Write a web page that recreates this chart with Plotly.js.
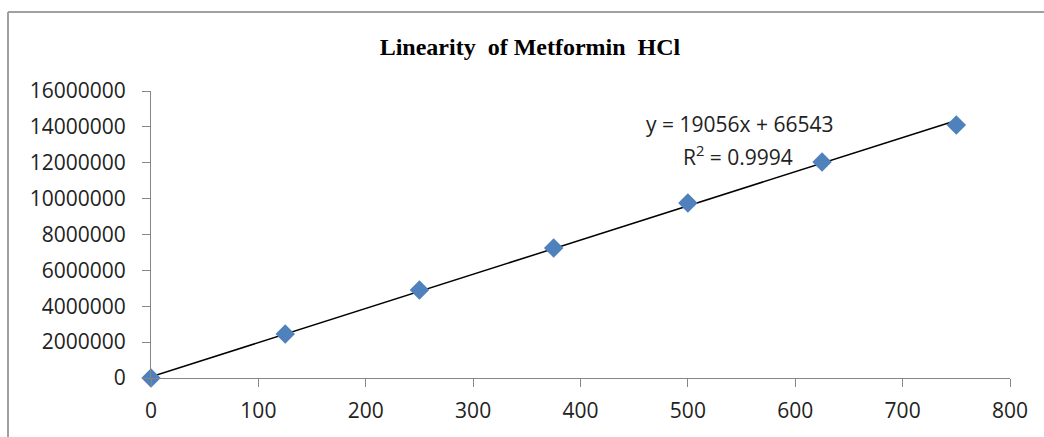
<!DOCTYPE html>
<html>
<head>
<meta charset="utf-8">
<script src="https://cdn.plot.ly/plotly-3.0.1.min.js"></script>
<style>
html,body{margin:0;padding:0;background:#fff;}
#chart{width:1044px;height:437px;}
</style>
</head>
<body>
<div id="chart"></div>
<script>
// Data
const concentration = [0, 125, 250, 375, 500, 625, 750];
const peakArea = [0, 2450000, 4900000, 7250000, 9760000, 12040000, 14100000];
const slope = 19056;
const intercept = 66543;
const equationText = "y = 19056x + 66543";
const r2Text = "R<sup>2</sup> = 0.9994";
const titleText = "Linearity&nbsp; of Metformin&nbsp; HCl";

const W = 1044, H = 437;
const M = {l: 151, r: 34, t: 91, b: 59};
const pw = W - M.l - M.r, ph = H - M.t - M.b;
function px2paperX(px){ return (px - M.l) / pw; }
function px2paperY(py){ return (H - M.b - py) / ph; }

const trendX = [concentration[0], concentration[concentration.length-1]];
const trendY = trendX.map(x => slope * x + intercept);

const tickFont = {family: "Open Sans, sans-serif", size: 21, color: "#222"};

const traces = [
  {
    x: trendX, y: trendY, mode: "lines", type: "scatter",
    line: {color: "#000", width: 1.5}, hoverinfo: "skip", showlegend: false,
    cliponaxis: false
  },
  {
    x: concentration, y: peakArea, mode: "markers", type: "scatter",
    marker: {symbol: "diamond", size: 15, color: "#4f81bd"}, showlegend: false,
    cliponaxis: false
  }
];

const layout = {
  width: W, height: H,
  margin: M,
  paper_bgcolor: "#fff", plot_bgcolor: "#fff",
  showlegend: false,
  title: {
    text: "<b>" + titleText + "</b>",
    font: {family: "Liberation Serif, Times New Roman, serif", size: 24, color: "#000"},
    xref: "container", x: 530 / W, xanchor: "center",
    yref: "container", y: 1 - 47 / H, yanchor: "middle"
  },
  xaxis: {
    range: [0, 800], dtick: 100, tick0: 0,
    showgrid: false, zeroline: false,
    showline: true, linecolor: "#868686", linewidth: 1,
    ticks: "outside", ticklen: 8, tickcolor: "#868686",
    tickfont: tickFont, ticklabelstandoff: 6
  },
  yaxis: {
    range: [0, 16000000], dtick: 2000000, tick0: 0,
    tickformat: "d",
    showgrid: false, zeroline: false,
    showline: true, linecolor: "#868686", linewidth: 1,
    ticks: "outside", ticklen: 8, tickcolor: "#868686",
    tickfont: tickFont, ticklabelstandoff: 12
  },
  annotations: [
    {text: equationText, xref: "paper", yref: "paper",
     x: px2paperX(739), y: px2paperY(124), xanchor: "center", yanchor: "middle",
     showarrow: false, font: tickFont},
    {text: r2Text, xref: "paper", yref: "paper",
     x: px2paperX(738), y: px2paperY(155), xanchor: "center", yanchor: "middle",
     showarrow: false, font: tickFont}
  ],
  shapes: [
    {type: "line", xref: "paper", yref: "paper",
     x0: px2paperX(8), x1: px2paperX(8), y0: px2paperY(12), y1: px2paperY(460),
     line: {color: "#a0a0a0", width: 2}},
    {type: "line", xref: "paper", yref: "paper",
     x0: px2paperX(8), x1: px2paperX(1100), y0: px2paperY(12), y1: px2paperY(12),
     line: {color: "#a0a0a0", width: 2}}
  ]
};

Plotly.newPlot("chart", traces, layout, {displayModeBar: false, staticPlot: true});
</script>
</body>
</html>
